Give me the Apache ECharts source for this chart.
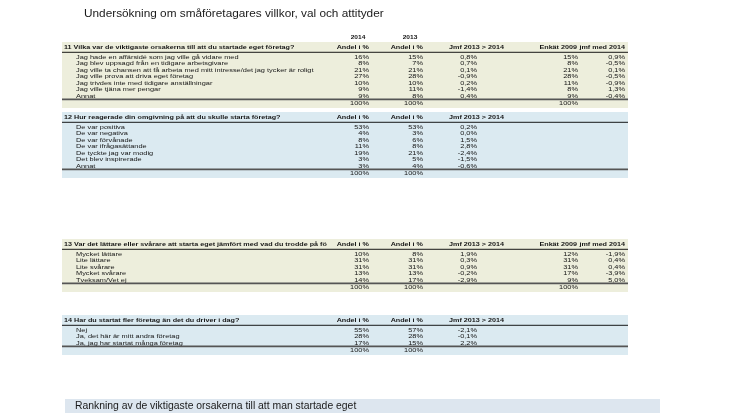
<!DOCTYPE html>
<html><head><meta charset="utf-8">
<script src="https://cdn.jsdelivr.net/npm/echarts@6/dist/echarts.min.js"></script>
<style>html,body{margin:0;padding:0;background:#fff}#c{width:746px;height:419px}</style>
</head><body><div id="c"></div>
<script>
// ---------- data ----------
const chartTitle = 'Undersökning om småföretagares villkor, val och attityder';
const yearLabels = ['2014', '2013'];
const colHeaders = ['Andel i %', 'Andel i %', 'Jmf 2013 > 2014', 'Enkät 2009', 'jmf med 2014'];
const footerText = 'Rankning av de viktigaste orsakerna till att man startade eget';

const q11Title = '11 Vilka var de viktigaste orsakerna till att du startade eget företag?';
const q11Labels = ['Jag hade en affärsidé som jag ville gå vidare med', 'Jag blev uppsagd från en tidigare arbetsgivare',
  'Jag ville ta chansen att få arbeta med mitt intresse/det jag tycker är roligt', 'Jag ville prova att driva eget företag',
  'Jag trivdes inte med tidigare anställningar', 'Jag ville tjäna mer pengar', 'Annat'];
const q11Andel2014 = [16, 8, 21, 27, 10, 9, 9];
const q11Andel2013 = [15, 7, 21, 28, 10, 11, 8];
const q11Jmf = [0.8, 0.7, 0.1, -0.9, 0.2, -1.4, 0.4];
const q11Enkat2009 = [15, 8, 21, 28, 11, 8, 9];
const q11Jmf2009 = [0.9, -0.5, 0.1, -0.5, -0.9, 1.3, -0.4];

const q12Title = '12 Hur reagerade din omgivning på att du skulle starta företag?';
const q12Labels = ['De var positiva', 'De var negativa', 'De var förvånade', 'De var ifrågasättande',
  'De tyckte jag var modig', 'Det blev inspirerade', 'Annat'];
const q12Andel2014 = [53, 4, 8, 11, 19, 3, 3];
const q12Andel2013 = [53, 3, 6, 8, 21, 5, 4];
const q12Jmf = [0.2, 0.0, 1.5, 2.8, -2.4, -1.5, -0.6];

const q13Title = '13 Var det lättare eller svårare att starta eget jämfört med vad du trodde på förhand?';
const q13Labels = ['Mycket lättare', 'Lite lättare', 'Lite svårare', 'Mycket svårare', 'Tveksam/Vet ej'];
const q13Andel2014 = [10, 31, 31, 13, 14];
const q13Andel2013 = [8, 31, 31, 13, 17];
const q13Jmf = [1.9, 0.3, 0.9, -0.2, -2.9];
const q13Enkat2009 = [12, 31, 31, 17, 9];
const q13Jmf2009 = [-1.9, 0.4, 0.4, -3.9, 5.0];

const q14Title = '14 Har du startat fler företag än det du driver i dag?';
const q14Labels = ['Nej', 'Ja, det här är mitt andra företag', 'Ja, jag har startat många företag'];
const q14Andel2014 = [55, 28, 17];
const q14Andel2013 = [57, 28, 15];
const q14Jmf = [-2.1, -0.1, 2.2];

const totalValue = 100;

const sections = [
  { title: q11Title, labels: q11Labels, a14: q11Andel2014, a13: q11Andel2013, jmf: q11Jmf, e09: q11Enkat2009, j09: q11Jmf2009 },
  { title: q12Title, labels: q12Labels, a14: q12Andel2014, a13: q12Andel2013, jmf: q12Jmf },
  { title: q13Title, labels: q13Labels, a14: q13Andel2014, a13: q13Andel2013, jmf: q13Jmf, e09: q13Enkat2009, j09: q13Jmf2009 },
  { title: q14Title, labels: q14Labels, a14: q14Andel2014, a13: q14Andel2013, jmf: q14Jmf }
];

// ---------- layout / style ----------
const SECTION_TOP = [42, 112, 239, 315];
const SECTION_BG = ['#edeedc', '#dbeaf1', '#edeedc', '#dbeaf1'];
const ROW_H = 6.5;
const X_LEFT = 62, X_RIGHT = 628;
const X_HEAD = 64, X_LABEL = 76, LABEL_W = 276;
const COL_X = [369, 423, 477, 578, 625];
const COL_HEAD_ALIGN = ['right', 'right', 'left', 'right', 'right'];
const COL_HEAD_X = [369, 423, 449, 577, 625];
const FONT = 'Liberation Sans, Arial, sans-serif';
const TXT = '#151515';
const FS = 7.4, FS_HEAD = 7.2, SY = 0.8;

const pct = v => v + '%';
const dec = v => (v < 0 ? '-' : '') + Math.abs(v).toFixed(1).replace('.', ',') + '%';

function txt(api, x, y, text, opt, sy) {
  const p = api.coord([x, y]);
  return {
    type: 'text', x: p[0], y: p[1], scaleY: sy || 1, silent: true,
    style: Object.assign({
      text: text, fill: TXT, fontFamily: FONT, fontSize: FS,
      align: 'left', verticalAlign: 'middle'
    }, opt || {})
  };
}
function hline(api, x1, x2, y, color, w) {
  const a = api.coord([x1, y]), b = api.coord([x2, y]);
  return { type: 'line', silent: true, shape: { x1: a[0], y1: a[1], x2: b[0], y2: b[1] }, style: { stroke: color, lineWidth: w } };
}
function box(api, x1, y1, x2, y2, fill) {
  const a = api.coord([x1, y1]), b = api.coord([x2, y2]);
  return { type: 'rect', silent: true, shape: { x: a[0], y: a[1], width: b[0] - a[0], height: b[1] - a[1] }, style: { fill: fill } };
}

function renderSection(params, api) {
  const si = api.value(0);
  const s = sections[si];
  const top = SECTION_TOP[si];
  const n = s.labels.length;
  const rowY = i => top + 15 + i * ROW_H;
  const lineY = rowY(n - 1) + 3.4;
  const totY = lineY + 4.2;
  const bottom = totY + 4.4;
  const hasOld = !!s.e09;
  const ch = [];
  const H = { fontWeight: 'bold', fontSize: FS_HEAD };
  ch.push(box(api, X_LEFT, top, X_RIGHT, bottom, SECTION_BG[si]));
  ch.push(txt(api, X_HEAD, top + 5, s.title, Object.assign({ width: LABEL_W, overflow: 'truncate', ellipsis: '' }, H), SY));
  const nCols = hasOld ? 5 : 3;
  for (let c = 0; c < nCols; c++) {
    ch.push(txt(api, COL_HEAD_X[c], top + 5, colHeaders[c], Object.assign({ align: COL_HEAD_ALIGN[c] }, H), SY));
  }
  ch.push(hline(api, X_LEFT, X_RIGHT, top + 10.3, '#000', 0.9));
  for (let i = 0; i < n; i++) {
    const y = rowY(i);
    ch.push(txt(api, X_LABEL, y, s.labels[i], null, SY));
    ch.push(txt(api, COL_X[0], y, pct(s.a14[i]), { align: 'right' }, SY));
    ch.push(txt(api, COL_X[1], y, pct(s.a13[i]), { align: 'right' }, SY));
    ch.push(txt(api, COL_X[2], y, dec(s.jmf[i]), { align: 'right' }, SY));
    if (hasOld) {
      ch.push(txt(api, COL_X[3], y, pct(s.e09[i]), { align: 'right' }, SY));
      ch.push(txt(api, COL_X[4], y, dec(s.j09[i]), { align: 'right' }, SY));
    }
  }
  ch.push(hline(api, X_LEFT, X_RIGHT, lineY, '#555', 1.6));
  ch.push(txt(api, COL_X[0], totY, pct(totalValue), { align: 'right' }, SY));
  ch.push(txt(api, COL_X[1], totY, pct(totalValue), { align: 'right' }, SY));
  if (hasOld) ch.push(txt(api, COL_X[3], totY, pct(totalValue), { align: 'right' }, SY));
  return { type: 'group', children: ch };
}

function renderDecor(params, api) {
  const ch = [];
  ch.push(txt(api, 358, 37, yearLabels[0], { fontWeight: 'bold', fontSize: 6.6, align: 'center' }, 0.9));
  ch.push(txt(api, 410, 37, yearLabels[1], { fontWeight: 'bold', fontSize: 6.6, align: 'center' }, 0.9));
  ch.push(box(api, 65, 399, 660, 413, '#dde6ef'));
  ch.push(txt(api, 75, 406, footerText, { fontSize: 10.4, fill: '#1a1a1a' }));
  return { type: 'group', children: ch };
}

const chart = echarts.init(document.getElementById('c'), null, { renderer: 'canvas' });
chart.setOption({
  animation: false,
  backgroundColor: '#ffffff',
  title: {
    text: chartTitle, left: 84, top: 8, padding: 0,
    textStyle: { fontFamily: FONT, fontSize: 11.8, fontWeight: 'normal', color: '#1a1a1a' }
  },
  grid: { left: 0, right: 0, top: 0, bottom: 0 },
  xAxis: { type: 'value', min: 0, max: 746, show: false },
  yAxis: { type: 'value', min: 0, max: 419, inverse: true, show: false },
  series: [
    { type: 'custom', coordinateSystem: 'cartesian2d', clip: false, renderItem: renderSection,
      data: sections.map((s, i) => [i]), encode: { x: 0, y: 0 } },
    { type: 'custom', coordinateSystem: 'cartesian2d', clip: false, renderItem: renderDecor,
      data: [[0]], encode: { x: 0, y: 0 } }
  ]
});
</script>
</body></html>
